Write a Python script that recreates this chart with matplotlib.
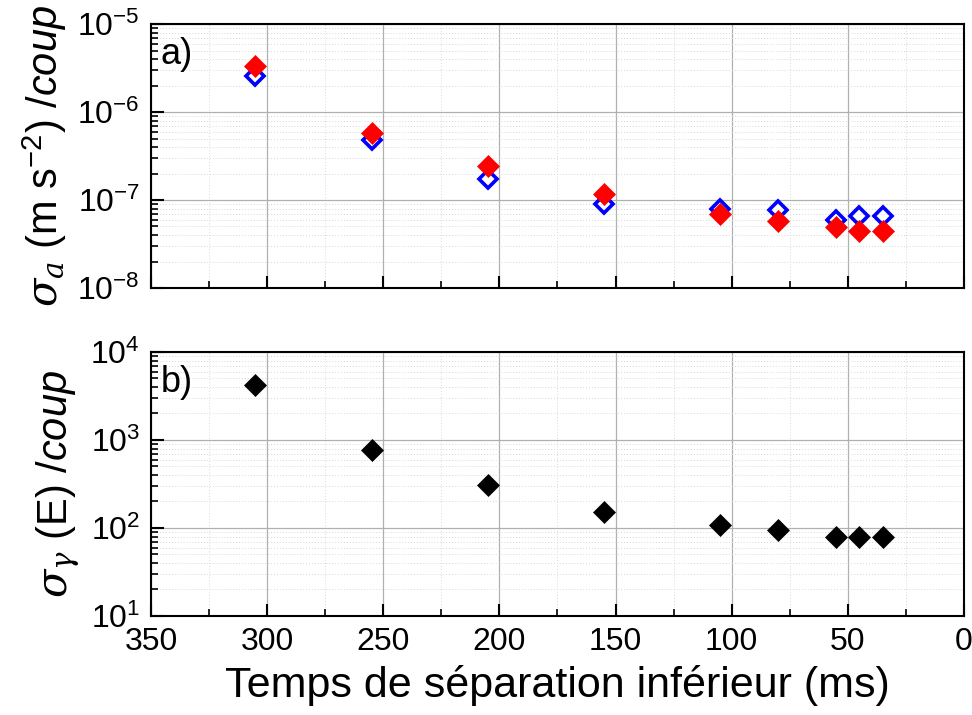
import matplotlib
matplotlib.use("Agg")
import matplotlib.pyplot as plt
from matplotlib.ticker import LogLocator, FixedLocator, NullFormatter, FuncFormatter, MultipleLocator
from matplotlib import font_manager
import math

# ---- data ----
t_ms = [305, 255, 205, 155, 105, 80, 55, 45, 35]
sigma_a_blue = [2.6e-6, 4.8e-7, 1.75e-7, 9.0e-8, 8.0e-8, 7.6e-8, 6.0e-8, 6.5e-8, 6.5e-8]
sigma_a_red = [3.3e-6, 5.8e-7, 2.45e-7, 1.18e-7, 7.0e-8, 5.7e-8, 4.9e-8, 4.5e-8, 4.5e-8]
sigma_E = [4200, 760, 305, 150, 108, 96, 79, 80, 79]
x_ticks = [350, 300, 250, 200, 150, 100, 50, 0]
xlabel = "Temps de séparation inférieur (ms)"
ylabel_a = r"$\sigma_a$ (m s$^{\mathregular{-2}}$) /$\mathsf{coup}$"
ylabel_b = r"$\sigma_\gamma$ (E) /$\mathsf{coup}$"

names = {f.name for f in font_manager.fontManager.ttflist}
fam = "Liberation Sans Narrow" if "Liberation Sans Narrow" in names else "Liberation Sans"
plt.rcParams["font.family"] = [fam, "DejaVu Sans"]
plt.rcParams["mathtext.fontset"] = "custom"
plt.rcParams["mathtext.rm"] = fam
plt.rcParams["mathtext.it"] = "DejaVu Serif:italic"
plt.rcParams["mathtext.sf"] = fam + ":italic"
plt.rcParams["mathtext.cal"] = fam

fig = plt.figure(figsize=(9.72, 7.15), dpi=100)
ax1 = fig.add_axes([0.1553, 0.5972, 0.8365, 0.3692])
ax2 = fig.add_axes([0.1553, 0.1385, 0.8365, 0.3692], sharex=ax1)

ax1.plot(t_ms, sigma_a_blue, linestyle="none", marker="D", markersize=9.5,
         markerfacecolor="none", markeredgecolor="#0000ff", markeredgewidth=2.6, zorder=3)
ax1.plot(t_ms, sigma_a_red, linestyle="none", marker="D", markersize=11,
         markerfacecolor="#ff0000", markeredgecolor="#ff0000", markeredgewidth=0.5, zorder=4)
ax2.plot(t_ms, sigma_E, linestyle="none", marker="D", markersize=11,
         markerfacecolor="black", markeredgecolor="black", markeredgewidth=0.5, zorder=3)

ax1.set_yscale("log")
ax2.set_yscale("log")
ax1.set_ylim(1e-8, 1e-5)
ax2.set_ylim(1e1, 1e4)
ax1.set_xlim(350, 0)

def pow_fmt(v, pos):
    e = int(round(math.log10(v)))
    return r"10$^{\mathregular{%d}}$" % e

for ax in (ax1, ax2):
    ax.xaxis.set_major_locator(FixedLocator(x_ticks))
    ax.xaxis.set_minor_locator(MultipleLocator(25))
    ax.yaxis.set_major_locator(LogLocator(base=10, numticks=10))
    ax.yaxis.set_minor_locator(LogLocator(base=10, subs=range(2, 10), numticks=20))
    ax.yaxis.set_major_formatter(FuncFormatter(pow_fmt))
    ax.yaxis.set_minor_formatter(NullFormatter())
    ax.grid(True, which="major", color="#b0b0b0", linewidth=0.9, linestyle="-")
    ax.grid(True, which="minor", color="#d8d8d8", linewidth=0.7, linestyle=(0, (1, 2)))
    ax.set_axisbelow(True)
    ax.tick_params(which="major", direction="in", length=9, width=1.5, labelsize=23,
                   top=False, right=False, pad=8)
    ax.tick_params(which="minor", direction="in", length=5, width=1.2, top=False, right=False)
    for s in ax.spines.values():
        s.set_linewidth(1.5)

plt.setp(ax1.get_xticklabels(), visible=False)

ax1.set_ylabel(ylabel_a, fontsize=30, labelpad=6)
ax2.set_ylabel(ylabel_b, fontsize=30, labelpad=6)
ax2.set_xlabel(xlabel, fontsize=31, labelpad=6)

ax1.text(0.012, 0.95, "a)", transform=ax1.transAxes, fontsize=26, va="top", ha="left")
ax2.text(0.012, 0.95, "b)", transform=ax2.transAxes, fontsize=26, va="top", ha="left")

fig.align_ylabels([ax1, ax2])
fig.savefig("out.png", dpi=100, facecolor="white")
